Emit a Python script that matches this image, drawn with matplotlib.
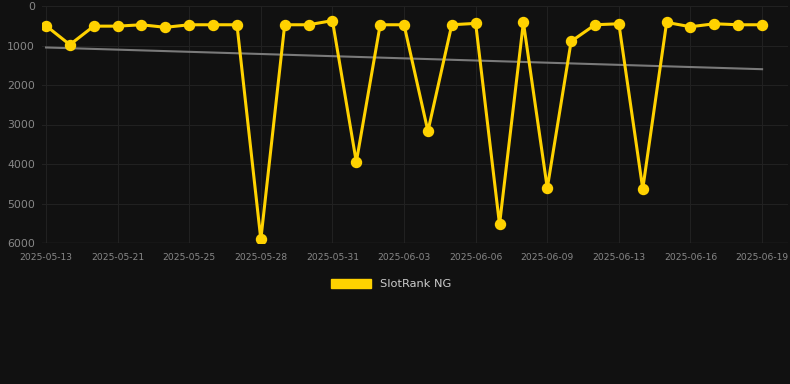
import matplotlib.pyplot as plt

# SlotRank NG daily rank (lower is better, axis inverted)
ranks = [500, 980, 510, 510, 475, 540, 475, 475, 475, 5910,
         475, 475, 370, 3950, 475, 475, 3170, 475, 440, 5530,
         415, 4610, 895, 475, 450, 4630, 415, 525, 450, 475, 475]
tick_labels = ['2025-05-13', '2025-05-21', '2025-05-25', '2025-05-28',
               '2025-05-31', '2025-06-03', '2025-06-06', '2025-06-09',
               '2025-06-13', '2025-06-16', '2025-06-19']
trend = [1050, 1600]  # trend line start / end values

bg = '#111111'
gold = '#FFD200'

fig = plt.figure(figsize=(7.9, 3.84), dpi=100, facecolor=bg)
ax = fig.add_axes([42 / 790, 1 - 243 / 384, 746 / 790, 237 / 384])
ax.set_facecolor(bg)

x = list(range(len(ranks)))
ax.plot(x, ranks, color=gold, linewidth=2.2, marker='o', markersize=7.2,
        zorder=3, label='SlotRank NG')
ax.plot([x[0], x[-1]], trend, color='#7a7a7a', linewidth=1.5, zorder=2)

ax.set_ylim(6000, 0)
ax.set_xlim((42 - 46) / 23.87, (788 - 46) / 23.87)
ax.set_yticks([0, 1000, 2000, 3000, 4000, 5000, 6000])
ax.set_xticks(x[::3])
ax.set_xticklabels(tick_labels)

ax.grid(True, color='#212121', linewidth=0.8)
ax.tick_params(axis='both', colors='#888888', length=0, labelsize=6.6)
ax.tick_params(axis='y', labelsize=7.8, pad=5)
ax.tick_params(axis='x', pad=7)
for s in ax.spines.values():
    s.set_visible(False)
ax.axhline(6000, color='#2e2e2e', linewidth=1)

leg = fig.legend(handles=[plt.Rectangle((0, 0), 1, 1, color=gold)],
                 labels=['SlotRank NG'], loc='center',
                 bbox_to_anchor=(391 / 790, 1 - 284 / 384), frameon=False,
                 handlelength=3.5, handleheight=0.9, fontsize=8.2)
for t in leg.get_texts():
    t.set_color('#cccccc')

fig.savefig('out.png', dpi=100, facecolor=bg)
